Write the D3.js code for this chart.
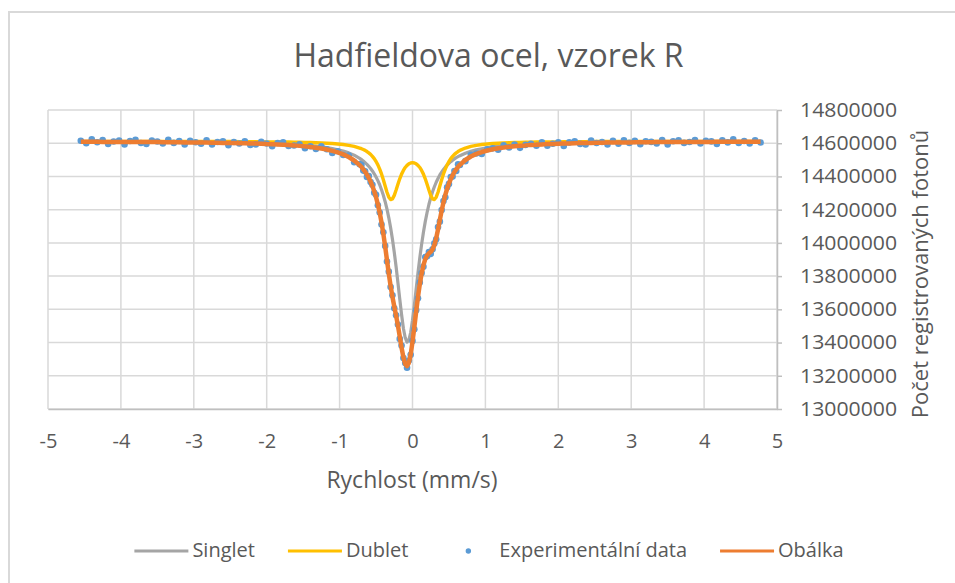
<!DOCTYPE html>
<html>
<head>
<meta charset="utf-8">
<script src="https://cdn.jsdelivr.net/npm/d3@7"></script>
<style>
body { margin: 0; background: #fff; }
svg text { font-family: "Open Sans", sans-serif; fill: #595959; }
</style>
</head>
<body>
<div id="chart"></div>
<script>
// velocity channels (mm/s)
var velocity = [
-4.55,-4.475,-4.4,-4.325,-4.25,-4.175,-4.1,-4.025,-3.95,-3.875,
-3.8,-3.725,-3.65,-3.575,-3.5,-3.425,-3.35,-3.275,-3.2,-3.125,
-3.05,-2.975,-2.9,-2.825,-2.75,-2.675,-2.6,-2.525,-2.45,-2.375,
-2.3,-2.225,-2.15,-2.075,-2,-1.925,-1.85,-1.775,-1.7,-1.625,
-1.55,-1.475,-1.4,-1.325,-1.25,-1.175,-1.1,-1.025,-0.95,-0.875,
-0.8,-0.725,
-0.7,-0.675,-0.65,-0.625,-0.6,-0.575,-0.55,-0.525,-0.5,-0.475,
-0.45,-0.425,-0.4,-0.375,-0.35,-0.325,-0.3,-0.275,-0.25,-0.225,
-0.2,-0.175,-0.15,-0.125,-0.1,-0.075,-0.05,-0.025,0,0.025,
0.05,0.075,0.1,0.125,0.15,0.175,0.2,0.225,0.25,0.275,
0.3,0.325,0.35,0.375,0.4,0.425,0.45,0.475,0.5,0.525,
0.55,0.575,0.6,0.625,0.65,
0.725,0.8,0.875,0.95,1.025,1.1,1.175,1.25,1.325,1.4,
1.475,1.55,1.625,1.7,1.775,1.85,1.925,2,2.075,2.15,
2.225,2.3,2.375,2.45,2.525,2.6,2.675,2.75,2.825,2.9,
2.975,3.05,3.125,3.2,3.275,3.35,3.425,3.5,3.575,3.65,
3.725,3.8,3.875,3.95,4.025,4.1,4.175,4.25,4.325,4.4,
4.475,4.55,4.625,4.7,4.775
];

var singlet = [
14610000,14610000,14609000,14609000,14609000,14609000,14609000,14609000,14609000,14609000,
14609000,14608000,14608000,14608000,14608000,14608000,14608000,14607000,14607000,14607000,
14607000,14606000,14606000,14606000,14605000,14605000,14604000,14604000,14604000,14603000,
14602000,14602000,14601000,14600000,14599000,14598000,14597000,14596000,14594000,14592000,
14590000,14588000,14585000,14582000,14578000,14574000,14568000,14561000,14553000,14542000,
14528000,14509000,
14501000,14493000,14483000,14473000,14461000,14448000,14433000,14416000,14397000,14375000,
14350000,14320000,14287000,14248000,14203000,14151000,14091000,14022000,13943000,13856000,
13761000,13663000,13569000,13486000,13429000,13403000,13414000,13460000,13534000,13624000,
13722000,13819000,13910000,13991000,14064000,14128000,14183000,14231000,14272000,14308000,
14338000,14365000,14388000,14409000,14426000,14442000,14456000,14468000,14479000,14489000,
14498000,14506000,14513000,14519000,14525000,
14540000,14551000,14560000,14567000,14573000,14578000,14582000,14585000,14588000,14590000,
14592000,14594000,14595000,14597000,14598000,14599000,14600000,14601000,14602000,14602000,
14603000,14603000,14604000,14604000,14605000,14605000,14606000,14606000,14606000,14607000,
14607000,14607000,14607000,14607000,14608000,14608000,14608000,14608000,14608000,14609000,
14609000,14609000,14609000,14609000,14609000,14609000,14609000,14609000,14610000,14610000,
14610000,14610000,14610000,14610000,14610000
];

var dublet = [
14611000,14611000,14611000,14611000,14611000,14611000,14611000,14611000,14611000,14611000,
14611000,14611000,14611000,14611000,14611000,14611000,14611000,14611000,14611000,14611000,
14610000,14610000,14610000,14610000,14610000,14610000,14610000,14610000,14610000,14609000,
14609000,14609000,14609000,14609000,14608000,14608000,14608000,14607000,14607000,14606000,
14606000,14605000,14604000,14603000,14602000,14600000,14598000,14595000,14592000,14587000,
14581000,14571000,
14567000,14562000,14557000,14550000,14542000,14533000,14521000,14507000,14490000,14470000,
14444000,14415000,14380000,14342000,14305000,14275000,14261000,14265000,14286000,14318000,
14353000,14386000,14414000,14436000,14454000,14467000,14476000,14481000,14483000,14481000,
14476000,14467000,14454000,14436000,14414000,14386000,14353000,14318000,14286000,14265000,
14261000,14275000,14305000,14342000,14380000,14415000,14444000,14470000,14490000,14507000,
14521000,14533000,14542000,14550000,14557000,
14571000,14581000,14587000,14592000,14595000,14598000,14600000,14602000,14603000,14604000,
14605000,14606000,14606000,14607000,14607000,14608000,14608000,14608000,14609000,14609000,
14609000,14609000,14609000,14610000,14610000,14610000,14610000,14610000,14610000,14610000,
14610000,14610000,14611000,14611000,14611000,14611000,14611000,14611000,14611000,14611000,
14611000,14611000,14611000,14611000,14611000,14611000,14611000,14611000,14611000,14611000,
14611000,14611000,14611000,14611000,14611000
];

var experiment = [
14615000,14600000,14623000,14606000,14619000,14596000,14610000,14616000,14593000,14613000,
14620000,14601000,14596000,14616000,14610000,14598000,14621000,14602000,14613000,14592000,
14615000,14606000,14597000,14617000,14593000,14607000,14611000,14588000,14607000,14598000,
14612000,14590000,14593000,14608000,14598000,14582000,14601000,14605000,14583000,14586000,
14594000,14570000,14582000,14565000,14581000,14564000,14541000,14552000,14529000,14526000,
14486000,14474000,
14469000,14436000,14431000,14397000,14402000,14366000,14350000,14302000,14290000,14227000,
14183000,14111000,14064000,13982000,13888000,13827000,13734000,13685000,13606000,13564000,
13509000,13422000,13382000,13307000,13277000,13248000,13292000,13326000,13410000,13480000,
13595000,13667000,13762000,13819000,13857000,13915000,13919000,13945000,13934000,13962000,
13997000,14022000,14095000,14128000,14198000,14252000,14275000,14335000,14355000,14396000,
14399000,14433000,14433000,14473000,14469000,
14492000,14531000,14538000,14535000,14564000,14569000,14561000,14587000,14575000,14592000,
14572000,14590000,14597000,14585000,14605000,14585000,14597000,14606000,14583000,14605000,
14611000,14596000,14593000,14616000,14601000,14607000,14593000,14614000,14597000,14618000,
14602000,14614000,14594000,14612000,14608000,14598000,14619000,14593000,14612000,14617000,
14602000,14607000,14619000,14598000,14615000,14611000,14596000,14618000,14605000,14623000,
14601000,14613000,14598000,14617000,14604000
];

var envelope = [
14609000,14609000,14609000,14609000,14608000,14608000,14608000,14608000,14608000,14608000,
14608000,14607000,14607000,14607000,14607000,14606000,14606000,14606000,14606000,14605000,
14605000,14605000,14604000,14604000,14603000,14603000,14602000,14602000,14601000,14600000,
14600000,14599000,14598000,14597000,14595000,14594000,14593000,14591000,14589000,14587000,
14584000,14581000,14577000,14573000,14568000,14562000,14554000,14545000,14533000,14517000,
14496000,14468000,
14457000,14443000,14428000,14411000,14391000,14369000,14342000,14311000,14275000,14232000,
14182000,14123000,14055000,13978000,13896000,13814000,13740000,13675000,13617000,13562000,
13502000,13437000,13370000,13311000,13271000,13258000,13278000,13328000,13405000,13493000,
13586000,13674000,13751000,13816000,13866000,13902000,13924000,13937000,13946000,13961000,
13987000,14028000,14081000,14139000,14194000,14245000,14289000,14326000,14358000,14384000,
14407000,14427000,14443000,14458000,14470000,
14499000,14520000,14536000,14547000,14556000,14564000,14570000,14574000,14579000,14582000,
14585000,14587000,14590000,14591000,14593000,14595000,14596000,14597000,14598000,14599000,
14600000,14601000,14601000,14602000,14603000,14603000,14604000,14604000,14604000,14605000,
14605000,14606000,14606000,14606000,14606000,14607000,14607000,14607000,14607000,14607000,
14608000,14608000,14608000,14608000,14608000,14608000,14609000,14609000,14609000,14609000,
14609000,14609000,14609000,14609000,14609000
];

var xTicks = [-5, -4, -3, -2, -1, 0, 1, 2, 3, 4, 5];
var yTicks = [13000000, 13200000, 13400000, 13600000, 13800000, 14000000,
              14200000, 14400000, 14600000, 14800000];
var legendNames = ["Singlet", "Dublet", "Experimentální data", "Obálka"];

var width = 955, height = 583;

var svg = d3.select('#chart').append('svg')
    .attr('width', width)
    .attr('height', height);

svg.append('rect')
    .attr('width', width)
    .attr('height', height)
    .attr('fill', 'white');

// chart frame (only top and left edge are inside the picture)
svg.append('rect')
    .attr('x', 9).attr('y', 12)
    .attr('width', 1000).attr('height', 1000)
    .attr('fill', 'none')
    .attr('stroke', '#d9d9d9')
    .attr('stroke-width', 2);

var x = d3.scaleLinear().domain([-5, 5]).range([48, 777]);
var y = d3.scaleLinear().domain([13000000, 14800000]).range([409, 110]);

// plain labels: hyphen minus, no thousands separator
var plain = function (d) { return String(d); };

// gridlines
svg.append('g').selectAll('.vertical')
    .data(xTicks)
    .enter().append('line')
    .attr('class', 'vertical')
    .style('stroke', '#d9d9d9')
    .style('stroke-width', 1.5)
    .attr('x1', function (d) { return x(d); })
    .attr('x2', function (d) { return x(d); })
    .attr('y1', y(14800000))
    .attr('y2', y(13000000));

svg.append('g').selectAll('.horizontal')
    .data(yTicks)
    .enter().append('line')
    .attr('class', 'horizontal')
    .style('stroke', '#d9d9d9')
    .style('stroke-width', 1.5)
    .attr('x1', x(-5))
    .attr('x2', x(5))
    .attr('y1', function (d) { return y(d); })
    .attr('y2', function (d) { return y(d); });

// axes
var xAxis = svg.append('g')
    .attr('transform', 'translate(0,' + y(13000000) + ')')
    .call(d3.axisBottom(x).tickValues(xTicks).tickFormat(plain).tickSize(0).tickPadding(25));
xAxis.select('.domain').attr('stroke', '#bfbfbf').attr('stroke-width', 1.5);
xAxis.selectAll('text').style('font-size', '20px').attr('fill', '#595959');

var yAxis = svg.append('g')
    .attr('transform', 'translate(' + x(5) + ',0)')
    .call(d3.axisRight(y).tickValues(yTicks).tickFormat(plain)
        .tickSize(5).tickSizeOuter(0).tickPadding(18));
yAxis.select('.domain').attr('stroke', '#bfbfbf').attr('stroke-width', 1.5);
yAxis.selectAll('.tick line').attr('stroke', '#bfbfbf').attr('stroke-width', 1.5);
yAxis.selectAll('text')
    .style('font-size', '20px')
    .attr('fill', '#595959')
    .attr('textLength', 97)
    .attr('lengthAdjust', 'spacingAndGlyphs');

// series
var line = d3.line()
    .x(function (d, i) { return x(velocity[i]); })
    .y(function (d) { return y(d); });

svg.append('path').datum(singlet)
    .attr('d', line)
    .attr('fill', 'none')
    .attr('stroke', '#a5a5a5')
    .attr('stroke-width', 3.2)
    .attr('stroke-linejoin', 'round');

svg.append('path').datum(dublet)
    .attr('d', line)
    .attr('fill', 'none')
    .attr('stroke', '#ffc000')
    .attr('stroke-width', 3.4)
    .attr('stroke-linejoin', 'round');

svg.append('g').selectAll('circle')
    .data(experiment)
    .enter().append('circle')
    .attr('cx', function (d, i) { return x(velocity[i]); })
    .attr('cy', function (d) { return y(d); })
    .attr('r', 3.3)
    .attr('fill', '#5b9bd5');

svg.append('path').datum(envelope)
    .attr('d', line)
    .attr('fill', 'none')
    .attr('stroke', '#ed7d31')
    .attr('stroke-width', 4.5)
    .attr('stroke-linejoin', 'round');

// titles
svg.append('text')
    .attr('x', 488.5).attr('y', 67)
    .attr('text-anchor', 'middle')
    .style('font-size', '32px')
    .text('Hadfieldova ocel, vzorek R');

svg.append('text')
    .attr('x', 412).attr('y', 488)
    .attr('text-anchor', 'middle')
    .style('font-size', '23px')
    .text('Rychlost (mm/s)');

svg.append('text')
    .attr('transform', 'translate(928,274) rotate(-90)')
    .attr('text-anchor', 'middle')
    .style('font-size', '22px')
    .text('Počet registrovaných fotonů');

// legend
var legendColors = ['#a5a5a5', '#ffc000', '#5b9bd5', '#ed7d31'];
var legend = svg.append('g');
var pos = 0;
legendNames.forEach(function (name, i) {
    var g = legend.append('g').attr('transform', 'translate(' + pos + ',0)');
    if (i === 2) {
        g.append('circle').attr('cx', 27).attr('cy', -6).attr('r', 2.7)
            .attr('fill', legendColors[i]);
    } else {
        g.append('line').attr('x1', 0).attr('x2', 54).attr('y1', -6).attr('y2', -6)
            .attr('stroke', legendColors[i]).attr('stroke-width', 3);
    }
    var t = g.append('text').attr('x', 58).style('font-size', '20px').text(name);
    pos += 58 + t.node().getComputedTextLength() + 33;
});
legend.attr('transform', 'translate(' + (489 - (pos - 33) / 2) + ',557)');
</script>
</body>
</html>
